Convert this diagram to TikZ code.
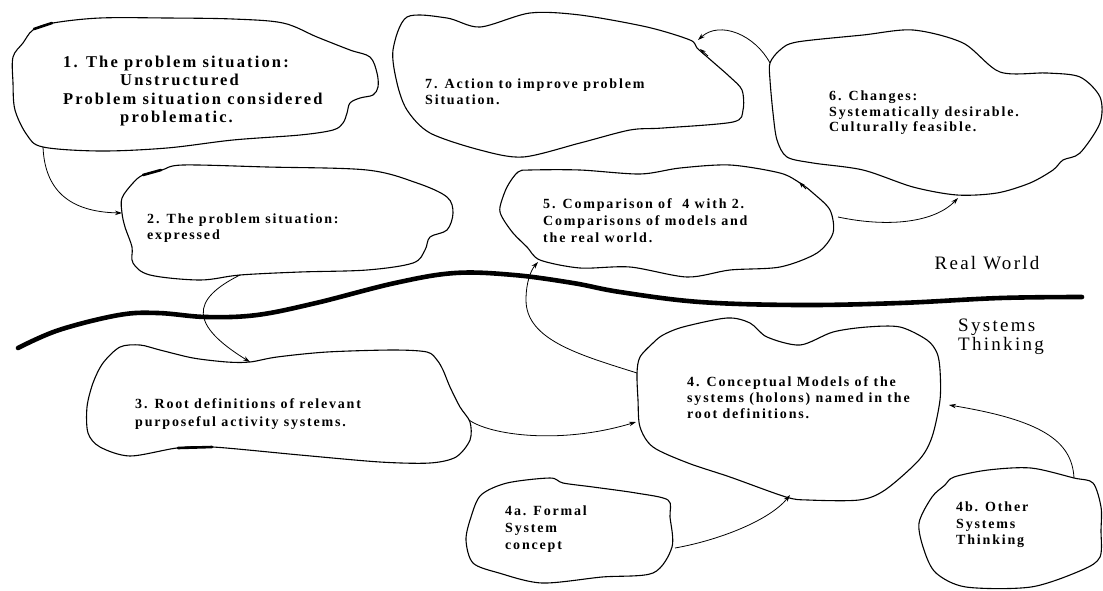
\documentclass[tikz,border=0pt]{standalone}
\usepackage{fontspec}
\setmainfont{Liberation Serif}
\newfontfamily\blobfont{Liberation Serif}[LetterSpace=13]
\newfontfamily\zonefont{Liberation Serif}[LetterSpace=12]
\usetikzlibrary{arrows.meta}

\tikzset{
  outline/.style={line width=1.1pt, line join=round},
  heavy/.style={line width=2.6pt, line cap=round},
  divider/.style={line width=4.6pt, line cap=round},
  link/.style={line width=0.8pt, -{Stealth[length=7pt,width=4.5pt]}},
  tip/.style={line width=0.8pt, -{Stealth[length=6pt,width=4pt]}},
  blobtext/.style={anchor=north west, inner sep=0pt, align=left,
    font=\blobfont\bfseries\fontsize{14}{16.5}\selectfont},
  zonetext/.style={inner sep=0pt, align=left,
    font=\zonefont\fontsize{19}{19}\selectfont},
}

\begin{document}
\begin{tikzpicture}[x=1pt, y=-1pt]
\useasboundingbox (0,0) rectangle (1103,590);
\fill[white] (0,0) rectangle (1103,590);

% ---- boundary between the real world and systems thinking ----
\draw[divider] plot[smooth, tension=0.6] coordinates {
  (18,348) (59,330) (119,315) (158,313) (206,317) (257,315) (316,303)
  (395,283) (455,273) (514,275) (573,283) (620,292) (700,302) (800,305)
  (900,303) (1000,298) (1082,297)};
\node[zonetext, anchor=center] (rw) at (987,263) {Real World};
\node[zonetext, anchor=north west] (st) at (958,319) {Systems\\Thinking};

% ---- blob 1 ----
\draw[outline] plot[smooth cycle, tension=0.55] coordinates {
  (33,30) (53,23) (100,18) (167,18) (233,19) (283,23) (317,37) (350,50)
  (370,57) (377,73) (378,87) (373,95) (360,98) (350,103) (347,113)
  (343,123) (333,130) (300,135) (233,140) (167,148) (100,151) (43,147)
  (27,135) (15,110) (13,83) (13,57) (23,43)};
\draw[heavy] (34,29) -- (52,23);
\node[blobtext, font=\blobfont\bfseries\fontsize{16.5}{18.3}\selectfont] (b1) at (63,56)
  {1. The problem situation:\\\hspace*{57pt}Unstructured\\Problem situation considered\\\hspace*{57pt}problematic.};

% ---- blob 2 ----
\draw[outline] plot[smooth cycle, tension=0.55] coordinates {
  (122,198) (133,183) (143,175) (162,170) (183,165) (267,167) (367,170)
  (417,183) (447,197) (453,213) (447,230) (430,237) (425,250) (413,263)
  (367,270) (300,272) (240,275) (200,280) (150,275) (133,263) (132,247)
  (125,227) (122,213)};
\draw[heavy] (143,175) -- (161,170);
\node[blobtext, font=\blobfont\bfseries\fontsize{14}{16}\selectfont] (b2) at (147,214)
  {2. The problem situation:\\expressed};

% ---- blob 7 ----
\draw[outline] plot[smooth cycle, tension=0.5] coordinates {
  (393,50) (407,17) (447,18) (480,27) (530,13) (580,15) (647,27) (690,40)
  (697,48) (713,62) (730,77) (742,90) (743,110) (733,122) (663,128)
  (630,130) (580,143) (523,157) (480,150) (430,133) (407,110) (397,83)};
\node[blobtext, font=\blobfont\bfseries\fontsize{14}{15.5}\selectfont] (b7) at (425,79)
  {7. Action to improve problem\\Situation.};

% ---- blob 6 ----
\draw[outline] plot[smooth cycle, tension=0.5] coordinates {
  (770,63) (780,50) (797,42) (863,35) (913,30) (963,43) (1000,72)
  (1047,73) (1080,77) (1100,97) (1100,123) (1080,153) (1063,160)
  (1053,170) (1030,183) (997,193) (957,195) (913,187) (863,170)
  (813,163) (787,157) (777,140) (773,113) (770,80)};
\node[blobtext, font=\blobfont\bfseries\fontsize{14}{15.5}\selectfont] (b6) at (829,91)
  {6. Changes:\\Systematically desirable.\\Culturally feasible.};

% ---- blob 5 ----
\draw[outline] plot[smooth cycle, tension=0.5] coordinates {
  (507,187) (518,172) (530,170) (580,170) (640,174) (680,168) (730,165)
  (780,173) (800,183) (813,193) (830,210) (833,233) (817,253) (780,267)
  (730,270) (687,277) (630,267) (580,268) (540,260) (527,247) (513,233)
  (502,217) (500,207)};
\node[blobtext, font=\blobfont\bfseries\fontsize{14}{17}\selectfont] (b5) at (543,198)
  {5. Comparison of \ 4 with 2.\\Comparisons of models and\\the real world.};

% ---- blob 3 ----
\draw[outline] plot[smooth cycle, tension=0.5] coordinates {
  (120,347) (140,345) (160,350) (193,358) (227,362) (250,362) (277,357)
  (327,352) (393,350) (427,352) (437,360) (443,370) (450,387) (460,407)
  (470,422) (470,440) (456,457) (430,463) (380,462) (300,455) (213,447)
  (177,448) (130,456) (100,447) (88,433) (87,407) (93,383) (103,363)};
\draw[heavy] (178,448) -- (212,447);
\node[blobtext, font=\blobfont\bfseries\fontsize{14}{18}\selectfont] (b3) at (135,398)
  {3. Root definitions of relevant\\purposeful activity systems.};

% ---- blob 4 ----
\draw[outline] plot[smooth cycle, tension=0.5] coordinates {
  (637,373) (640,357) (653,343) (663,335) (683,327) (727,318) (750,323)
  (767,337) (800,345) (833,332) (867,327) (900,327) (927,340) (937,353)
  (940,370) (940,400) (932,437) (919,460) (885,490) (859,500) (808,500)
  (786,497) (730,477) (688,463) (653,447) (640,427) (638,400)};
\node[blobtext, font=\blobfont\bfseries\fontsize{14}{16}\selectfont] (b4) at (687,376)
  {4. Conceptual Models of the\\systems (holons) named in the\\root definitions.};

% ---- blob 4a ----
\draw[outline] plot[smooth cycle, tension=0.5] coordinates {
  (471,517) (481,495) (507,483) (550,478) (563,483) (593,487) (636,493)
  (668,500) (670,517) (672,547) (653,573) (602,577) (542,583) (499,573)
  (473,563) (466,540)};
\node[blobtext, font=\blobfont\bfseries\fontsize{14}{17}\selectfont] (b4a) at (505,506)
  {4a. Formal\\System\\concept};

% ---- blob 4b ----
\draw[outline] plot[smooth cycle, tension=0.5] coordinates {
  (932,497) (945,485) (954,477) (988,470) (1031,468) (1074,478)
  (1093,483) (1101,507) (1101,530) (1100,557) (1082,570) (1031,587)
  (966,587) (936,573) (924,550) (919,523)};
\node[blobtext, font=\blobfont\bfseries\fontsize{14}{16.5}\selectfont] (b4b) at (956,502)
  {4b. Other\\Systems\\Thinking};

% ---- connector end points on the outlines ----
\coordinate (o1) at (43,147);
\coordinate (i2) at (122,213);
\coordinate (o2) at (240,275);
\coordinate (i3) at (250,362);
\coordinate (o3) at (469,420);
\coordinate (i4l) at (636,422);
\coordinate (o4) at (637,373);
\coordinate (i5) at (538,262);
\coordinate (o5) at (838,217);
\coordinate (i6) at (958,198);
\coordinate (o6) at (770,63);
\coordinate (i7) at (698,40);
\coordinate (o4a) at (675,548);
\coordinate (i4b) at (790,495);
\coordinate (o4b) at (1074,478);
\coordinate (i4r) at (949,405);

% ---- connectors ----
\draw[link] (o1) .. controls (45,195) and (75,212) .. (i2);
\draw[link] (o2) .. controls (190,300) and (190,325) .. (i3);
\draw[link] (o3) .. controls (490,435) and (560,445) .. (i4l);
\draw[link] (o4) .. controls (580,355) and (526,340) .. (526,300)
               .. controls (526,282) and (531,270) .. (i5);
\draw[link] (o5) .. controls (890,228) and (935,222) .. (i6);
\draw[link] (o6) .. controls (755,35) and (720,20) .. (i7);
\draw[link] (o4a) .. controls (720,540) and (770,520) .. (i4b);
\draw[link] (o4b) .. controls (1072,440) and (1040,420) .. (i4r);

% small tips where the freehand outlines close
\draw[tip] (708,56) -- (700,49);
\draw[tip] (806,189) -- (799,182);
\end{tikzpicture}
\end{document}
